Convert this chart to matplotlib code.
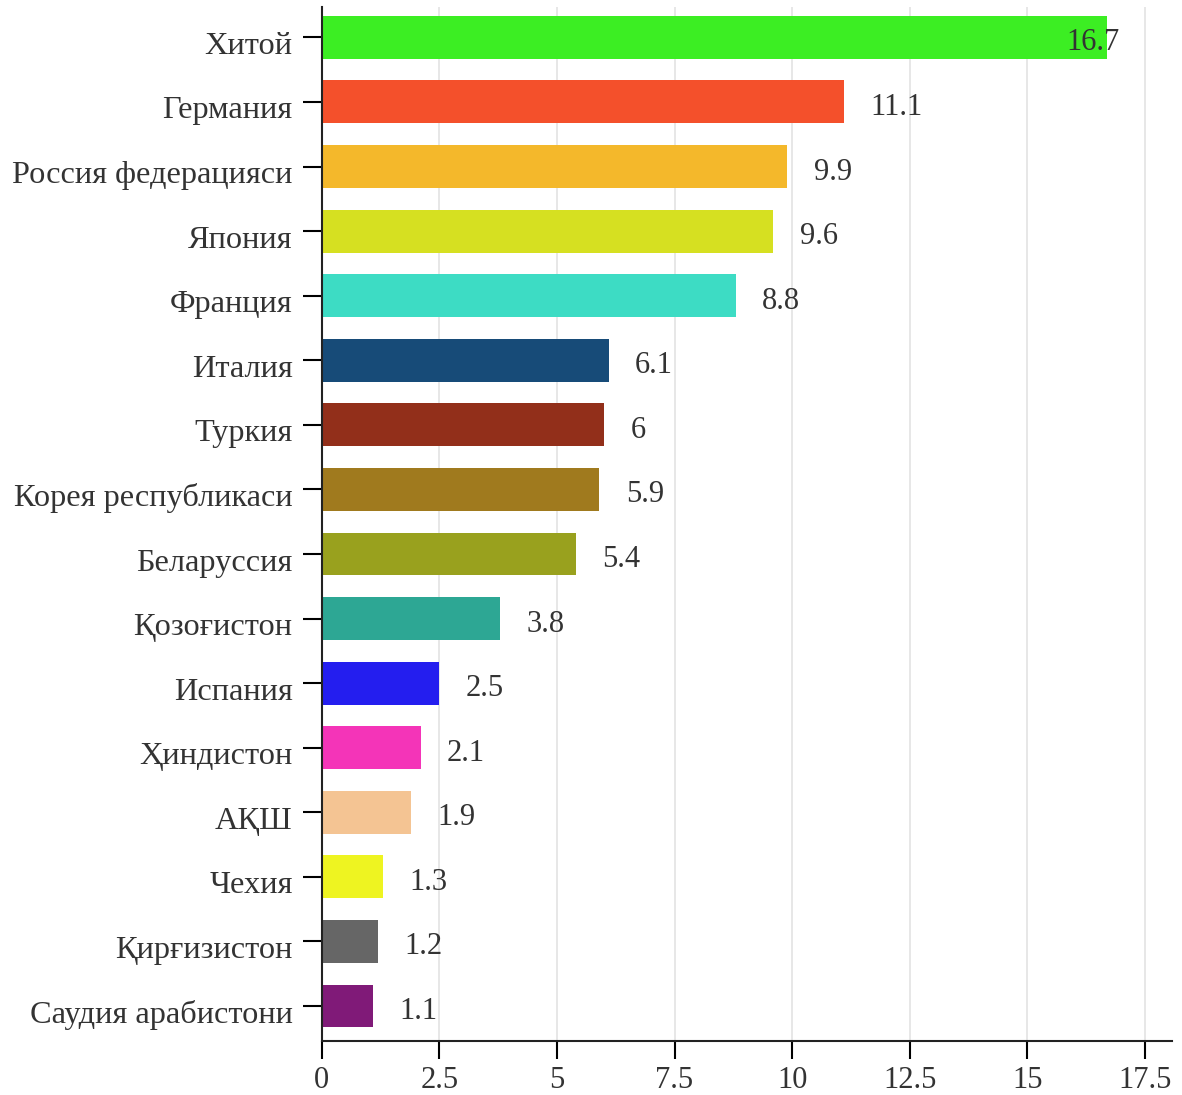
import matplotlib
matplotlib.use("Agg")
import matplotlib.pyplot as plt
from matplotlib.transforms import ScaledTranslation

countries = [
    "Хитой", "Германия", "Россия федерацияси", "Япония", "Франция",
    "Италия", "Туркия", "Корея республикаси", "Беларуссия", "Қозоғистон",
    "Испания", "Ҳиндистон", "АҚШ", "Чехия", "Қирғизистон", "Саудия арабистони",
]
shares = [16.7, 11.1, 9.9, 9.6, 8.8, 6.1, 6, 5.9, 5.4, 3.8, 2.5, 2.1, 1.9, 1.3, 1.2, 1.1]
value_labels = ["16.7", "11.1", "9.9", "9.6", "8.8", "6.1", "6", "5.9", "5.4", "3.8",
                "2.5", "2.1", "1.9", "1.3", "1.2", "1.1"]
bar_colors = [
    "#3CEE23", "#F4502B", "#F4B82B", "#D6E021", "#3DDCC4", "#174B78", "#922F1A", "#A07A1E",
    "#99A11E", "#2DA794", "#241EEF", "#F434B8", "#F4C493", "#EEF421", "#666666", "#801A78",
]
x_ticks = [0, 2.5, 5, 7.5, 10, 12.5, 15, 17.5]
x_tick_labels = ["0", "2.5", "5", "7.5", "10", "12.5", "15", "17.5"]

plt.rcParams["font.family"] = ["Liberation Serif", "DejaVu Serif"]

fig = plt.figure(figsize=(11.82, 10.95), dpi=100)
ax = fig.add_axes([0.2722, 0.0496, 0.7191, 0.9440])

positions = list(range(len(countries)))
ax.barh(positions, shares, height=0.665, color=bar_colors, zorder=2)

ax.set_xlim(0, 18.07)
ax.set_ylim(15.537, -0.47)
ax.set_yticks(positions)
ax.set_yticklabels(countries, fontsize=23.3, color="#333333")
ax.set_xticks(x_ticks)
ax.set_xticklabels(x_tick_labels, fontsize=22, color="#333333")
ax.tick_params(axis="y", length=14, width=1.5, pad=7)
ax.tick_params(axis="x", length=13, width=1.5, pad=5)

# labels in the reference sit a few pixels below the bar centre
shift = ScaledTranslation(0, -4 / 72, fig.dpi_scale_trans)
for lbl in ax.get_yticklabels():
    lbl.set_transform(lbl.get_transform() + shift)

ax.grid(axis="x", color="#e3e3e3", linewidth=1.2, zorder=0)
ax.set_axisbelow(True)
for side in ["top", "right"]:
    ax.spines[side].set_visible(False)
for side in ["left", "bottom"]:
    ax.spines[side].set_linewidth(1.5)
    ax.spines[side].set_color("#222222")

for pos, value, label in zip(positions, shares, value_labels):
    if value > 16:
        ax.annotate(label, (value, pos), xytext=(9, -4), textcoords="offset points",
                    ha="right", va="center", fontsize=22, color="#333333", zorder=3)
    else:
        ax.annotate(label, (value, pos), xytext=(19, -4), textcoords="offset points",
                    ha="left", va="center", fontsize=22, color="#333333", zorder=3)

fig.savefig("out.png", dpi=100)
